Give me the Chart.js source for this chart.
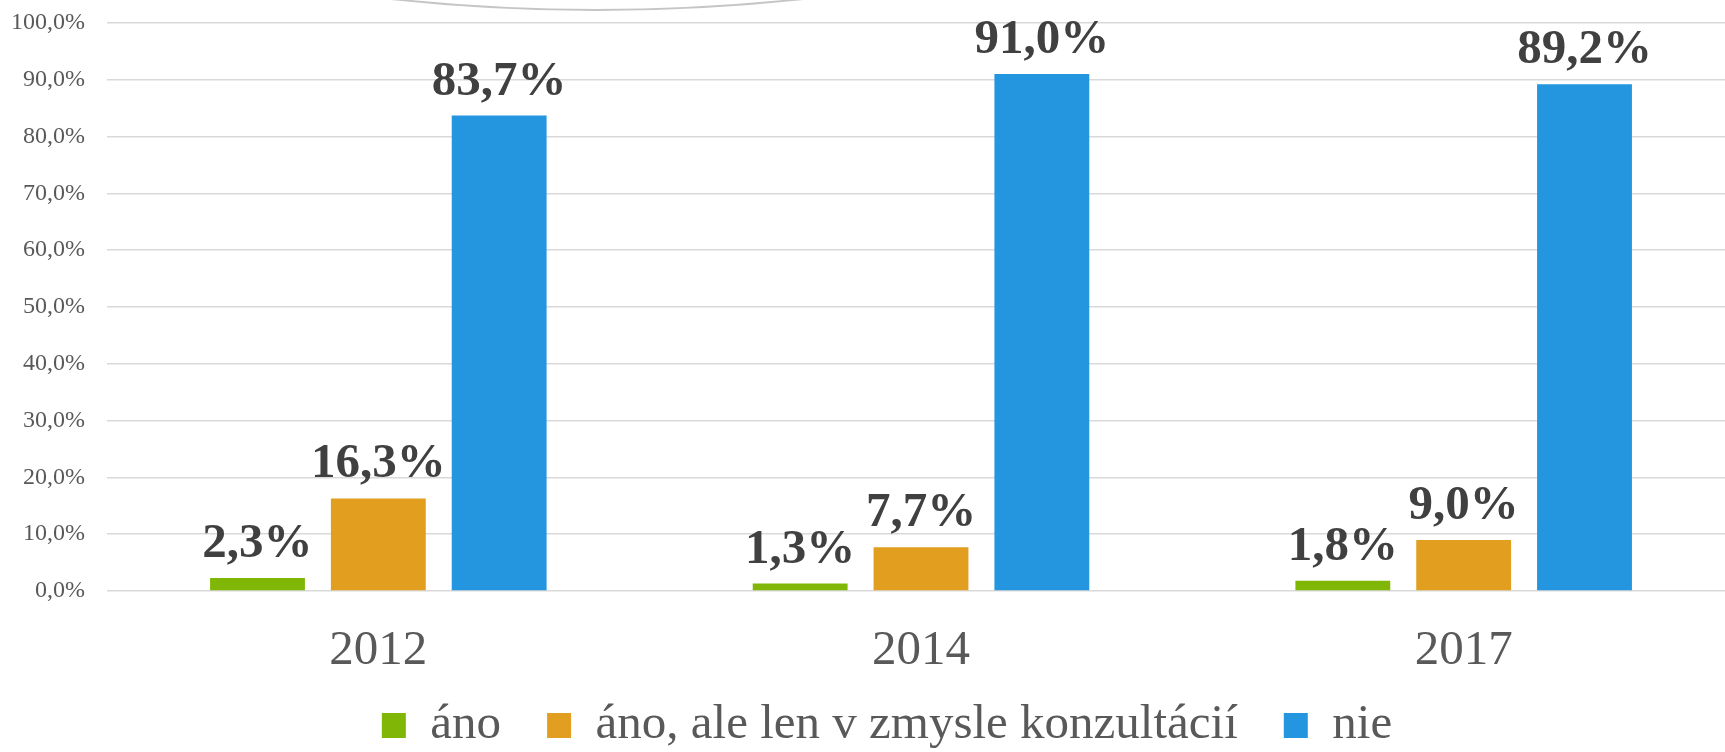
<!DOCTYPE html>
<html>
<head>
<meta charset="utf-8">
<script src="https://cdn.jsdelivr.net/npm/chart.js@4"></script>
<style>
  html, body { margin: 0; padding: 0; background: #fff; overflow: hidden; }
  #wrap { position: relative; width: 1774px; height: 752px; }
</style>
</head>
<body>
<div id="wrap"><canvas id="graf"></canvas></div>
<script>
// DATA
const roky = ['2012', '2014', '2017'];
const nazvy = ['áno', 'áno, ale len v zmysle konzultácií', 'nie'];
const ano = [2.3, 1.3, 1.8];
const konzultacie = [16.3, 7.7, 9.0];
const nie = [83.7, 91.0, 89.2];
const farby = ['#80b706', '#e29f1f', '#2496e0'];
const osY = ['0,0%', '10,0%', '20,0%', '30,0%', '40,0%', '50,0%', '60,0%', '70,0%', '80,0%', '90,0%', '100,0%'];

const serif = "'Liberation Serif', 'Times New Roman', serif";

// popisky nad stlpcami
const popisky = {
  id: 'popisky',
  afterDatasetsDraw(chart) {
    const ctx = chart.ctx;
    ctx.save();
    ctx.font = 'bold 49px ' + serif;
    ctx.fillStyle = '#404040';
    ctx.textAlign = 'center';
    ctx.textBaseline = 'alphabetic';
    chart.data.datasets.forEach((ds, i) => {
      chart.getDatasetMeta(i).data.forEach((bar, j) => {
        const t = ds.data[j].toFixed(1).replace('.', ',') + '%';
        ctx.fillText(t, bar.x, bar.y - 21);
      });
    });
    ctx.restore();
  }
};

// slaby oblucik hore (zvysok obrazka nad grafom)
const oblucik = {
  id: 'oblucik',
  beforeDraw(chart) {
    const ctx = chart.ctx;
    ctx.save();
    ctx.strokeStyle = 'rgba(150,150,150,0.55)';
    ctx.lineWidth = 2;
    ctx.beginPath();
    ctx.moveTo(365, -4);
    ctx.quadraticCurveTo(595, 24, 830, -4);
    ctx.stroke();
    ctx.restore();
  }
};

// legenda - vyska a posun
const legendaPoloha = {
  id: 'legendaPoloha',
  beforeInit(chart) {
    const fit = chart.legend.fit;
    chart.legend.fit = function () {
      fit.bind(chart.legend)();
      this.height = 79;
    };
  },
  afterLayout(chart) {
    const l = chart.legend;
    l.top = 655;
    l.bottom = 752;
  }
};

new Chart(document.getElementById('graf'), {
  type: 'bar',
  data: {
    labels: roky,
    datasets: [
      { label: nazvy[0], data: ano, backgroundColor: farby[0] },
      { label: nazvy[1], data: konzultacie, backgroundColor: farby[1] },
      { label: nazvy[2], data: nie, backgroundColor: farby[2] }
    ]
  },
  options: {
    responsive: true,
    maintainAspectRatio: false,
    animation: false,
    datasets: { bar: { barPercentage: 0.785, categoryPercentage: 0.668 } },
    layout: { padding: { top: 23, left: 0, right: 0, bottom: 0 } },
    scales: {
      x: {
        grid: { display: false, drawTicks: false },
        border: { display: false },
        ticks: { color: '#595959', padding: 31, font: { family: serif, size: 49 } },
        afterFit(s) { s.height = 82; }
      },
      y: {
        min: 0,
        max: 100,
        ticks: {
          stepSize: 10,
          padding: 22,
          color: '#595959',
          font: { family: serif, size: 24 },
          callback: (v, i) => osY[i]
        },
        grid: { color: '#d9d9d9', lineWidth: 1.5, drawTicks: false },
        border: { display: false },
        afterFit(s) { s.width = 107; s.paddingTop = 0; s.paddingBottom = 0; }
      },
      prava: {
        position: 'right',
        display: true,
        grid: { display: false },
        ticks: { display: false },
        border: { display: false },
        afterFit(s) { s.width = 39; }
      }
    },
    plugins: {
      legend: {
        position: 'bottom',
        labels: {
          boxWidth: 24,
          boxHeight: 25,
          padding: 46,
          color: '#595959',
          font: { family: serif, size: 49 }
        }
      },
      tooltip: { enabled: false }
    }
  },
  plugins: [oblucik, popisky, legendaPoloha]
});
</script>
</body>
</html>
